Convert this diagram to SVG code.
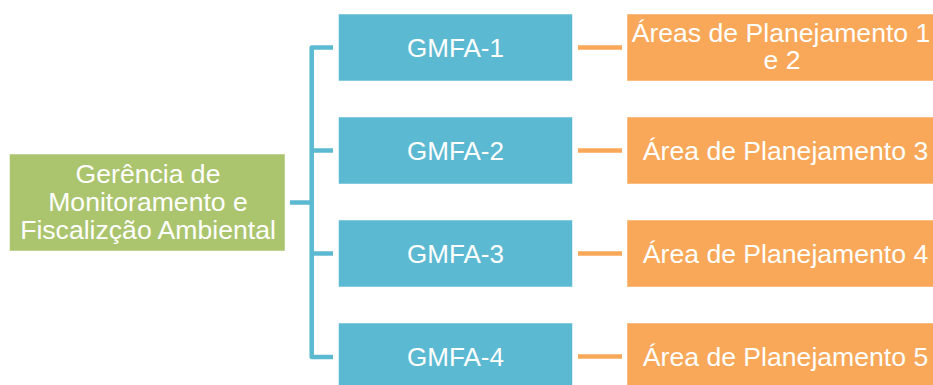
<svg xmlns="http://www.w3.org/2000/svg" width="933" height="385" viewBox="0 0 933 385">
<style>
.g{fill:#ABC46E;stroke:#ffffff;stroke-opacity:0.5;stroke-width:1}
.b{fill:#5CB9D2;stroke:#ffffff;stroke-opacity:0.5;stroke-width:1}
.o{fill:#F8A858;stroke:#ffffff;stroke-opacity:0.5;stroke-width:1}
text{font-family:"Liberation Sans",Arial,sans-serif;font-size:26px;fill:#ffffff;text-anchor:middle}
.l{font-size:26.6px}
.cb{fill:none;stroke:#5CB9D2;stroke-width:4.5;stroke-linejoin:round}
.co{fill:none;stroke:#F8A858;stroke-width:4.5}
</style>
<rect width="933" height="385" fill="#ffffff"/>
<g id="connectors">
<path class="cb" d="M333,47.5 H311.7 V357 H333"/>
<path class="cb" d="M290,202.5 H311.7"/>
<path class="cb" d="M311.7,150.5 H333"/>
<path class="cb" d="M311.7,253.5 H333"/>
<path class="co" d="M578,47.5 H622"/>
<path class="co" d="M578,150.5 H622"/>
<path class="co" d="M578,253.5 H622"/>
<path class="co" d="M578,356.5 H622"/>
</g>
<g id="root">
<rect class="g" x="9.5" y="154" width="275.5" height="97"/>
<text class="l" x="148" y="183">Gerência de</text>
<text class="l" x="148" y="211">Monitoramento e</text>
<text class="l" x="148" y="239">Fiscalizção Ambiental</text>
</g>
<g id="gmfa1">
<rect class="b" x="338.5" y="14" width="234" height="67"/>
<text x="455.5" y="57">GMFA-1</text>
</g>
<g id="gmfa2">
<rect class="b" x="338.5" y="117" width="234" height="67"/>
<text x="455.5" y="160">GMFA-2</text>
</g>
<g id="gmfa3">
<rect class="b" x="338.5" y="220" width="234" height="67"/>
<text x="455.5" y="263">GMFA-3</text>
</g>
<g id="gmfa4">
<rect class="b" x="338.5" y="323" width="234" height="67"/>
<text x="455.5" y="366">GMFA-4</text>
</g>
<g id="ap12">
<rect class="o" x="627" y="14" width="312" height="67"/>
<text class="l" x="781" y="41.5">Áreas de Planejamento 1</text>
<text class="l" x="782" y="69">e 2</text>
</g>
<g id="ap3">
<rect class="o" x="627" y="117" width="312" height="67"/>
<text class="l" x="785.5" y="160">Área de Planejamento 3</text>
</g>
<g id="ap4">
<rect class="o" x="627" y="220" width="312" height="67"/>
<text class="l" x="785.5" y="263">Área de Planejamento 4</text>
</g>
<g id="ap5">
<rect class="o" x="627" y="323" width="312" height="67"/>
<text class="l" x="785.5" y="366">Área de Planejamento 5</text>
</g>
</svg>
